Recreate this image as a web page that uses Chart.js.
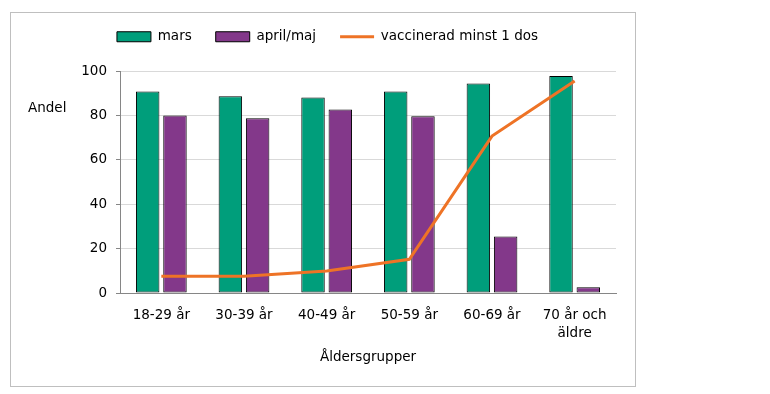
<!DOCTYPE html>
<html lang="sv">
<head>
<meta charset="utf-8">
<script src="https://cdn.jsdelivr.net/npm/chart.js@4"></script>
<style>
  body { margin: 0; background: #fff; }
  #frame {
    position: absolute; left: 10px; top: 12px;
    width: 626px; height: 375px;
    box-sizing: border-box; border: 1px solid #bfbfbf;
  }
  #wrap { position: relative; width: 624px; height: 373px; }
</style>
</head>
<body>
<div id="frame"><div id="wrap"><canvas id="vaccChart"></canvas></div></div>
<script>
// ===== DATA =====
const categories = ["18-29 år", "30-39 år", "40-49 år", "50-59 år", "60-69 år", ["70 år och", "äldre"]];
const marsValues = [90.8, 88.6, 88.1, 90.8, 94.4, 97.7];
const aprilMajValues = [80.0, 78.7, 82.7, 79.6, 25.5, 2.6];
const vaccinatedValues = [7.5, 7.6, 9.9, 15.2, 70.7, 95.5];
const yTicks = [0, 20, 40, 60, 80, 100];

const FONT = "'DejaVu Sans', Verdana, sans-serif";
Chart.defaults.font.family = FONT;
Chart.defaults.font.size = 13.5;
Chart.defaults.color = "#000";

// Horizontal "Andel" label left of the y axis
const andelLabel = {
  id: "andelLabel",
  afterDraw(chart) {
    const { ctx } = chart;
    ctx.save();
    ctx.font = "13.5px " + FONT;
    ctx.fillStyle = "#000";
    ctx.textAlign = "left";
    ctx.textBaseline = "middle";
    ctx.fillText("Andel", 17, chart.chartArea.top + 37);
    ctx.restore();
  }
};

// Fixed legend height + small horizontal nudge to match the reference
const legendTweak = {
  id: "legendTweak",
  beforeLayout(chart) {
    const lg = chart.legend;
    if (!lg || lg._fixed) return;
    const fit = lg.fit;
    lg.fit = function () {
      fit.call(this);
      this.height = 65;
    };
    lg._fixed = true;
  },
  afterLayout(chart) {
    const lg = chart.legend;
    if (!lg) return;
    lg.left += 14;
    lg.right += 14;
  }
};

new Chart(document.getElementById("vaccChart"), {
  type: "bar",
  data: {
    labels: categories,
    datasets: [
      {
        label: "mars",
        data: marsValues,
        backgroundColor: "#009E7B",
        borderColor: "#000",
        borderWidth: 1,
        borderSkipped: false,
        pointStyle: "rect",
        order: 1
      },
      {
        label: "april/maj",
        data: aprilMajValues,
        backgroundColor: "#83388A",
        borderColor: "#000",
        borderWidth: 1,
        borderSkipped: false,
        pointStyle: "rect",
        order: 1
      },
      {
        type: "line",
        label: "vaccinerad minst 1 dos",
        data: vaccinatedValues,
        borderColor: "#EE7326",
        backgroundColor: "#EE7326",
        borderWidth: 3,
        pointRadius: 0,
        pointStyle: "line",
        tension: 0,
        order: 0
      }
    ]
  },
  options: {
    responsive: true,
    maintainAspectRatio: false,
    animation: false,
    layout: { padding: { top: -7, right: 19, bottom: 16, left: 0 } },
    categoryPercentage: 0.66,
    barPercentage: 0.86,
    plugins: {
      tooltip: { enabled: false },
      legend: {
        position: "top",
        labels: {
          usePointStyle: true,
          pointStyleWidth: 34,
          boxHeight: 10,
          padding: 24,
          sort: (a, b) => a.datasetIndex - b.datasetIndex
        }
      }
    },
    scales: {
      x: {
        grid: { display: false, drawTicks: false },
        border: { display: true, color: "#868686" },
        ticks: {
          padding: 14,
          maxRotation: 0,
          font: { size: 13.5, lineHeight: 1.33 }
        },
        title: {
          display: true,
          text: "Åldersgrupper",
          font: { size: 13.5 }
        },
        afterFit(scale) { scale.height = 77; }
      },
      y: {
        min: 0,
        max: 100,
        afterBuildTicks(scale) {
          scale.ticks = yTicks.map(v => ({ value: v }));
        },
        grid: { color: "#d9d9d9", tickLength: 4, tickColor: "#868686" },
        border: { color: "#868686" },
        ticks: { padding: 9 },
        afterFit(scale) { scale.width = 109; }
      }
    }
  },
  plugins: [andelLabel, legendTweak]
});
</script>
</body>
</html>
